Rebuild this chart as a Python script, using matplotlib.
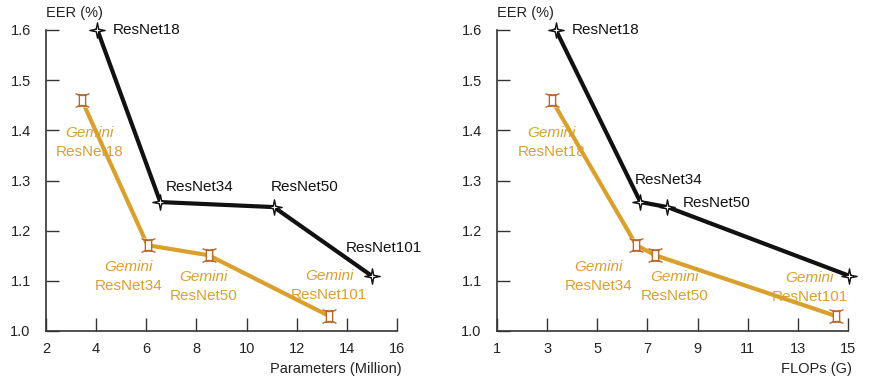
import matplotlib
matplotlib.use("Agg")
import matplotlib.pyplot as plt
from matplotlib.path import Path
import numpy as np

plt.rcParams['font.family'] = ['Liberation Sans', 'DejaVu Sans']

# ---- data ----
models = ["ResNet18", "ResNet34", "ResNet50", "ResNet101"]

params_base = [4.05, 6.56, 11.09, 14.99]
eer_base = [1.60, 1.257, 1.247, 1.11]
params_gemini = [3.43, 6.05, 8.49, 13.29]
eer_gemini = [1.46, 1.171, 1.151, 1.03]

flops_base = [3.35, 6.72, 7.80, 15.05]
flops_gemini = [3.19, 6.56, 7.31, 14.51]

param_ticks = [2, 4, 6, 8, 10, 12, 14, 16]
flop_ticks = [1, 3, 5, 7, 9, 11, 13, 15]
eer_ticks = [1.0, 1.1, 1.2, 1.3, 1.4, 1.5, 1.6]

# ---- style ----
BLACK = "#111111"
ORANGE = "#D9A02E"
MARKER_EDGE = "#B8692C"
SPINE = "#333333"

# four-pointed star marker
star = Path([(0, 1), (0.16, 0.16), (1, 0), (0.16, -0.16), (0, -1),
             (-0.16, -0.16), (-1, 0), (-0.16, 0.16), (0, 1)],
            [Path.MOVETO] + [Path.LINETO] * 7 + [Path.CLOSEPOLY])

# gemini-sign marker: two pillars joined by curved bars
def gemini_path():
    xs = np.linspace(-1, 1, 15)
    top = 1.0 - 0.28 * (1 - xs ** 2)
    bot = -top
    verts, codes = [], []
    verts += list(zip(xs, top)); codes += [Path.MOVETO] + [Path.LINETO] * (len(xs) - 1)
    verts += list(zip(xs, bot)); codes += [Path.MOVETO] + [Path.LINETO] * (len(xs) - 1)
    yt = 1.0 - 0.28 * (1 - 0.45 ** 2)
    box = [(-0.45, -yt), (-0.45, yt), (0.45, yt), (0.45, -yt), (-0.45, -yt)]
    verts += box; codes += [Path.MOVETO] + [Path.LINETO] * 3 + [Path.CLOSEPOLY]
    return Path(verts, codes)

gem = gemini_path()

# label offsets in pixels: (dx, dy) of label anchor from its point
base_offsets_params = [(15, 0), (5, 15), (-3, 20), (-26, 28)]
gem_offsets_params = [(8, -42), (-19, -31), (-5, -31), (0, 30)]
base_offsets_flops = [(16, 0), (-6, 22), (15, 4), (-38, 28)]
gem_offsets_flops = [(0, -42), (-38, -31), (19, -31), (-26, 28)]

fig = plt.figure(figsize=(8.84, 3.82), dpi=100)
ax_l = fig.add_axes([46 / 884, 51 / 382, 351 / 884, 301 / 382])
ax_r = fig.add_axes([497 / 884, 51 / 382, 351 / 884, 301 / 382])


def draw(ax, xb, xg, xticks, xlabel, boff, goff):
    ax.plot(xb, eer_base, color=BLACK, lw=3.0, zorder=3, clip_on=False,
            solid_joinstyle="miter")
    ax.plot(xb, eer_base, ls="none", marker=star, ms=11, mfc="white",
            mec=BLACK, mew=1.0, zorder=5, clip_on=False)
    ax.plot(xg, eer_gemini, color=ORANGE, lw=3.0, zorder=3, clip_on=False)
    ax.plot(xg, eer_gemini, ls="none", marker=gem, ms=10, mfc="white",
            mec=MARKER_EDGE, mew=1.0, zorder=5, clip_on=False)

    for name, x, y, (dx, dy) in zip(models, xb, eer_base, boff):
        ax.annotate(name, (x, y), xytext=(dx, dy), textcoords="offset pixels",
                    ha="left", va="center", fontsize=11, color=BLACK, zorder=2)
    for name, x, y, (dx, dy) in zip(models, xg, eer_gemini, goff):
        ax.annotate("Gemini", (x, y), xytext=(dx, dy + 9.5),
                    textcoords="offset pixels", ha="center", va="center",
                    fontsize=11, color=ORANGE, style="italic", zorder=2)
        ax.annotate(name, (x, y), xytext=(dx, dy - 9.5),
                    textcoords="offset pixels", ha="center", va="center",
                    fontsize=11, color=ORANGE, zorder=2)

    ax.set_xlim(xticks[0], xticks[-1])
    ax.set_ylim(eer_ticks[0], eer_ticks[-1])
    ax.set_xticks(xticks)
    ax.set_xticklabels([str(t) for t in xticks])
    ax.set_yticks(eer_ticks)
    ax.set_yticklabels([f"{t:.1f}" for t in eer_ticks])
    for s in ("top", "right"):
        ax.spines[s].set_visible(False)
    for s in ("left", "bottom"):
        ax.spines[s].set_color(SPINE)
        ax.spines[s].set_linewidth(1.2)
    ax.tick_params(direction="in", length=9.5, width=1.0, color=SPINE,
                   labelsize=10.5, labelcolor="#222222")
    ax.tick_params(axis="y", pad=11)
    ax.tick_params(axis="x", pad=8)
    ax.patch.set_visible(False)

    ax.text(0.0, 1.055, "EER (%)", transform=ax.transAxes, ha="left",
            va="center", fontsize=10.5, color="#222222")
    ax.text(1.012, -0.125, xlabel, transform=ax.transAxes, ha="right",
            va="center", fontsize=10.5, color="#222222")


draw(ax_l, params_base, params_gemini, param_ticks, "Parameters (Million)",
     base_offsets_params, gem_offsets_params)
draw(ax_r, flops_base, flops_gemini, flop_ticks, "FLOPs (G)",
     base_offsets_flops, gem_offsets_flops)

fig.savefig("out.png", dpi=100)
